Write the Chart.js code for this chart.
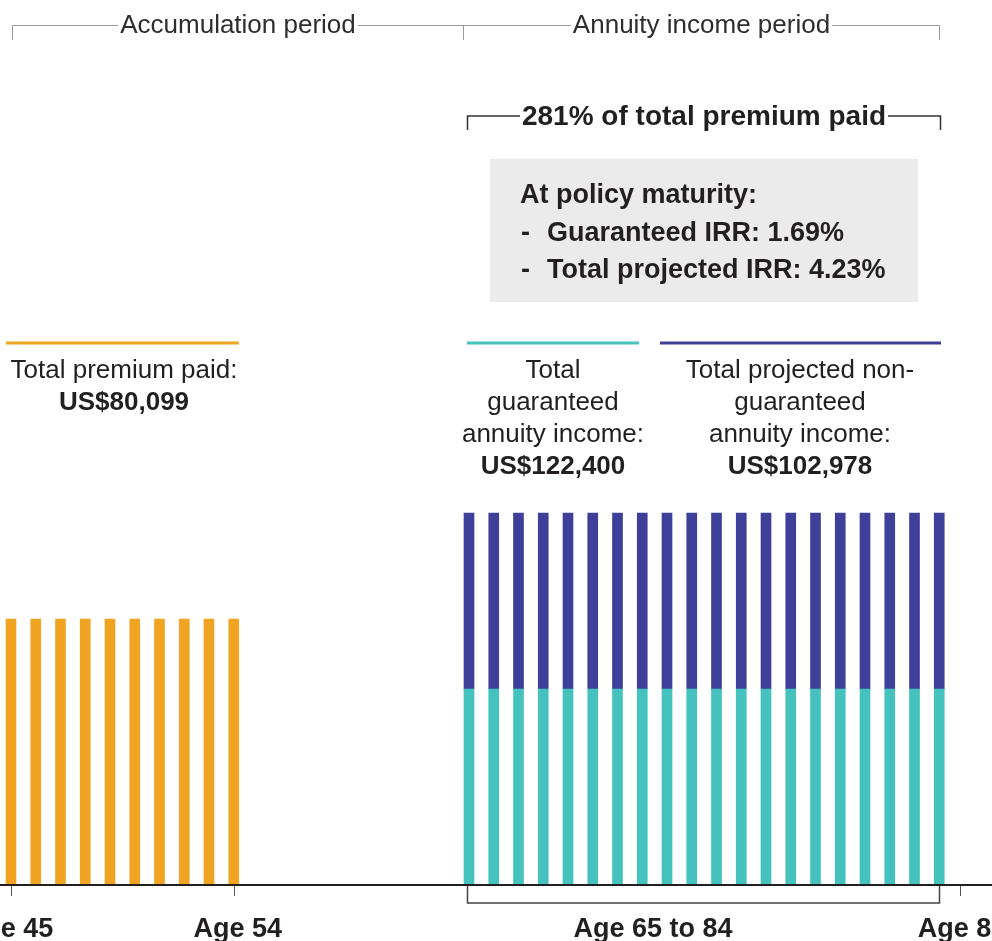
<!DOCTYPE html>
<html>
<head>
<meta charset="utf-8">
<script src="https://cdn.jsdelivr.net/npm/chart.js@4"></script>
<style>
  html, body { margin: 0; padding: 0; background: #fff; }
  #wrap { width: 992px; height: 941px; position: relative; }
</style>
</head>
<body>
<div id="wrap"><canvas id="c"></canvas></div>
<script>
// ---- Data ----
const premiumAges = [45, 46, 47, 48, 49, 50, 51, 52, 53, 54];
const premiumPaid = [8010, 8010, 8010, 8010, 8010, 8010, 8010, 8010, 8010, 8010];
const annuityAges = [65, 66, 67, 68, 69, 70, 71, 72, 73, 74, 75, 76, 77, 78, 79, 80, 81, 82, 83, 84];
const guaranteedIncome = [5894, 5894, 5894, 5894, 5894, 5894, 5894, 5894, 5894, 5894,
                          5894, 5894, 5894, 5894, 5894, 5894, 5894, 5894, 5894, 5894];
const nonGuaranteedIncome = [5320, 5320, 5320, 5320, 5320, 5320, 5320, 5320, 5320, 5320,
                             5320, 5320, 5320, 5320, 5320, 5320, 5320, 5320, 5320, 5320];
const tickAgesLeft = [45, 54];
const tickLabelsLeft = ['Age 45', 'Age 54'];
const tickAgesRight = [85];
const tickLabelsRight = ['Age 85'];
const rangeLabel = 'Age 65 to 84';
const periodLabels = ['Accumulation period', 'Annuity income period'];
const premiumLabel = ['Total premium paid:', 'US$80,099'];
const guaranteedLabel = ['Total', 'guaranteed', 'annuity income:', 'US$122,400'];
const nonGuaranteedLabel = ['Total projected non-', 'guaranteed', 'annuity income:', 'US$102,978'];
const ratioLabel = '281% of total premium paid';
const boxTitle = 'At policy maturity:';
const boxItems = ['Guaranteed IRR: 1.69%', 'Total projected IRR: 4.23%'];

const ORANGE = '#F0A422', TEAL = '#45C1BE', NAVY = '#3E3F98', INK = '#231F20';
const FONT = '"Liberation Sans", Arial, sans-serif';

const toXY = (xs, ys) => xs.map((x, i) => ({ x: x, y: ys[i] }));

const annotate = {
  id: 'annotate',
  afterDraw(chart) {
    const ctx = chart.ctx;
    const xL = chart.scales.x, xR = chart.scales.x2, y = chart.scales.y;
    const y0 = Math.round(y.getPixelForValue(0));
    ctx.save();

    // baseline
    ctx.strokeStyle = INK; ctx.lineWidth = 2;
    ctx.beginPath(); ctx.moveTo(0, y0 + 1); ctx.lineTo(992, y0 + 1); ctx.stroke();

    // ticks
    ctx.strokeStyle = '#555'; ctx.lineWidth = 1;
    const tickPx = tickAgesLeft.map(a => xL.getPixelForValue(a)).concat(tickAgesRight.map(a => xR.getPixelForValue(a) - 4));
    tickPx.forEach(px => { const p = Math.round(px) + 0.5; ctx.beginPath(); ctx.moveTo(p, y0 + 2); ctx.lineTo(p, y0 + 12); ctx.stroke(); });

    // bracket under 65-84
    const bL = Math.round(xR.getPixelForValue(65)) - 2 + 0.5, bR = Math.round(xR.getPixelForValue(84)) + 0.5;
    ctx.strokeStyle = '#444'; ctx.lineWidth = 1.5;
    ctx.beginPath(); ctx.moveTo(bL, y0 + 2); ctx.lineTo(bL, y0 + 19); ctx.lineTo(bR, y0 + 19); ctx.lineTo(bR, y0 + 2); ctx.stroke();

    // bottom labels
    ctx.fillStyle = INK; ctx.font = 'bold 27px ' + FONT; ctx.textAlign = 'center'; ctx.textBaseline = 'alphabetic';
    tickLabelsLeft.forEach((t, i) => ctx.fillText(t, tickPx[i] + (i === 1 ? 4 : -2), 937));
    ctx.fillText(tickLabelsRight[0], tickPx[2] + 2, 937);
    ctx.fillText(rangeLabel, 653, 937);

    // header brackets
    const hA = Math.round(xL.getPixelForValue(45)) + 1 + 0.5;
    const hB = Math.round(xR.getPixelForValue(65)) - 6 + 0.5;
    const hC = Math.round(xR.getPixelForValue(84)) + 0.5;
    ctx.strokeStyle = '#9a9a9a'; ctx.lineWidth = 1;
    ctx.beginPath();
    ctx.moveTo(hA, 40); ctx.lineTo(hA, 25.5); ctx.lineTo(hC, 25.5); ctx.lineTo(hC, 40);
    ctx.moveTo(hB, 25.5); ctx.lineTo(hB, 40);
    ctx.stroke();
    ctx.font = '26px ' + FONT; ctx.textBaseline = 'middle';
    [[periodLabels[0], (hA + hB) / 2], [periodLabels[1], (hB + hC) / 2]].forEach(([t, cx]) => {
      const w = ctx.measureText(t).width;
      ctx.fillStyle = '#fff'; ctx.fillRect(cx - w / 2 - 2, 10, w + 4, 30);
      ctx.fillStyle = '#2e2e2e'; ctx.fillText(t, cx, 26);
    });

    // 281% bracket
    const rL = Math.round(xR.getPixelForValue(65)) - 2 + 0.5, rR = Math.round(xR.getPixelForValue(84)) + 1 + 0.5;
    ctx.strokeStyle = '#333'; ctx.lineWidth = 1.5;
    ctx.beginPath(); ctx.moveTo(rL, 130); ctx.lineTo(rL, 116); ctx.lineTo(rR, 116); ctx.lineTo(rR, 130); ctx.stroke();
    ctx.font = 'bold 28px ' + FONT;
    const rw = ctx.measureText(ratioLabel).width, rc = (rL + rR) / 2;
    ctx.fillStyle = '#fff'; ctx.fillRect(rc - rw / 2 - 2, 100, rw + 4, 30);
    ctx.fillStyle = INK; ctx.fillText(ratioLabel, rc, 117);

    // grey box
    ctx.fillStyle = '#EBEBEB'; ctx.fillRect(490, 159, 428, 143);
    ctx.fillStyle = INK; ctx.textAlign = 'left'; ctx.textBaseline = 'alphabetic';
    ctx.font = 'bold 27px ' + FONT;
    ctx.fillText(boxTitle, 520, 203);
    boxItems.forEach((t, i) => { ctx.fillText('-', 521, 241 + i * 37); ctx.fillText(t, 547, 241 + i * 37); });

    // coloured rules
    ctx.lineWidth = 3;
    const rule = (c, a, b) => { ctx.strokeStyle = c; ctx.beginPath(); ctx.moveTo(a, 343); ctx.lineTo(b, 343); ctx.stroke(); };
    rule(ORANGE, xL.getPixelForValue(45) - 5, xL.getPixelForValue(54) + 5);
    rule(TEAL, xR.getPixelForValue(65) - 2, 639);
    rule(NAVY, 660, 941);

    // series labels
    ctx.textAlign = 'center'; ctx.fillStyle = INK;
    const block = (lines, cx) => lines.forEach((t, i) => {
      ctx.font = (i === lines.length - 1 ? 'bold ' : '') + '26px ' + FONT;
      ctx.fillText(t, cx, 378 + i * 32);
    });
    ctx.font = '26px ' + FONT; ctx.fillText(premiumLabel[0], 124, 378);
    ctx.font = 'bold 26px ' + FONT; ctx.fillText(premiumLabel[1], 124, 410);
    block(guaranteedLabel, 553);
    block(nonGuaranteedLabel, 800);

    ctx.restore();
  }
};

new Chart(document.getElementById('c'), {
  type: 'bar',
  data: {
    datasets: [
      { label: 'Premium paid', data: toXY(premiumAges, premiumPaid), backgroundColor: ORANGE, xAxisID: 'x', stack: 'p' },
      { label: 'Guaranteed annuity income', data: toXY(annuityAges, guaranteedIncome), backgroundColor: TEAL, xAxisID: 'x2', stack: 'a' },
      { label: 'Projected non-guaranteed annuity income', data: toXY(annuityAges, nonGuaranteedIncome), backgroundColor: NAVY, xAxisID: 'x2', stack: 'a' }
    ]
  },
  options: {
    responsive: true,
    maintainAspectRatio: false,
    animation: false,
    layout: { padding: { left: 0, right: 0, top: 0, bottom: 57 } },
    datasets: { bar: { barThickness: 10, grouped: false, borderWidth: 0 } },
    plugins: { legend: { display: false }, tooltip: { enabled: false } },
    scales: {
      x: { type: 'linear', display: false, offset: false, min: 44.5556, max: 84.6364, stacked: true },
      x2: { type: 'linear', display: false, offset: false, min: 46.0505, max: 86.1313, stacked: true },
      y: { display: false, min: 0, max: 26720, stacked: true }
    }
  },
  plugins: [annotate]
});
</script>
</body>
</html>
